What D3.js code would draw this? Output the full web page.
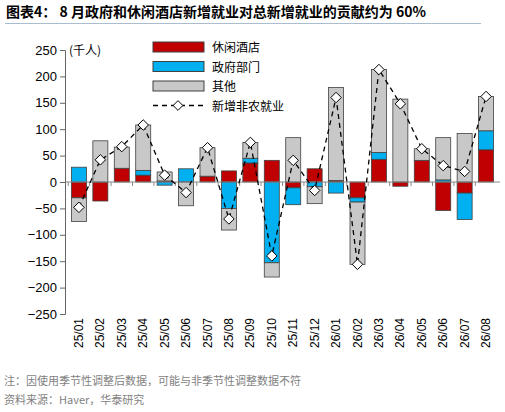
<!DOCTYPE html>
<html><head><meta charset="utf-8">
<script src="https://cdn.jsdelivr.net/npm/d3@7"></script>
<style>
body{margin:0;background:#fff;font-family:"Noto Sans CJK SC","Liberation Sans",sans-serif;}
</style></head>
<body><svg id="chart" width="505" height="412"></svg>
<script>
// months
var months = ["25/01","25/02","25/03","25/04","25/05","25/06","25/07","25/08","25/09","25/10",
  "25/11","25/12","26/01","26/02","26/03","26/04","26/05","26/06","26/07","26/08"];
var leisure = [-30,-36,26,13,2,0,11,21,36,41,-11,25,3,-30,43,-8,41,-54,-21,61];
var government = [28,0,0,9,-6,25,0,-50,9,-153,-32,-9,-21,-8,13,0,0,4,-50,36];
var other = [-45,78,40,86,17,-45,54,-41,30,-27,84,-32,176,-118,157,157,22,80,92,65];
var total = [-48,42,67,108,13,-20,65,-70,75,-140,41,-16,160,-156,213,148,63,31,20,162];
var yTicks = [-250,-200,-150,-100,-50,0,50,100,150,200,250];

var seriesNames = ["休闲酒店","政府部门","其他"];
var colors = ["#C00000","#00B0F0","#C8C8C8"];

var svg = d3.select("#chart");
var margin = {top: 50, right: 5, bottom: 98, left: 65};
var width = 505 - margin.left - margin.right;
var height = 412 - margin.top - margin.bottom;

// title
svg.append("text").attr("x", 6).attr("y", 17)
  .attr("font-size", 14).attr("font-weight", "bold").attr("fill", "#000")
  .text("图表4：  8 月政府和休闲酒店新增就业对总新增就业的贡献约为 60%");
svg.append("line").attr("x1", 5).attr("x2", 481).attr("y1", 23.5).attr("y2", 23.5)
  .style("stroke", "#A9BCD0").style("stroke-width", 1);

var chart = svg.append("g").attr("transform", "translate(" + margin.left + "," + margin.top + ")");

var x = d3.scaleBand().domain(months).range([0, width]).padding(0.3);
var y = d3.scaleLinear().domain([-250, 250]).range([height, 0]);

var rows = months.map(function (m, i) {
  return {month: m, "休闲酒店": leisure[i], "政府部门": government[i], "其他": other[i]};
});
var stacked = d3.stack().keys(seriesNames).offset(d3.stackOffsetDiverging)(rows);

stacked.forEach(function (s, si) {
  chart.selectAll(".bar" + si).data(s).enter().append("rect")
    .attr("x", function (d) { return x(d.data.month); })
    .attr("y", function (d) { return y(Math.max(d[0], d[1])); })
    .attr("width", x.bandwidth())
    .attr("height", function (d) { return Math.abs(y(d[0]) - y(d[1])); })
    .style("fill", colors[si]).style("stroke", "#404040").style("stroke-width", 0.8);
});

// zero line
chart.append("line").attr("x1", 0).attr("x2", width).attr("y1", y(0)).attr("y2", y(0))
  .style("stroke", "#888").style("stroke-width", 1);
chart.selectAll(".xt").data(months).enter().append("line")
  .attr("x1", function (d) { return x(d) - x.step() * x.padding() / 2; })
  .attr("x2", function (d) { return x(d) - x.step() * x.padding() / 2; })
  .attr("y1", y(0)).attr("y2", y(0) + 4).style("stroke", "#888");

// total line
var line = d3.line()
  .x(function (d, i) { return x(months[i]) + x.bandwidth() / 2; })
  .y(function (d) { return y(d); });
chart.append("path").datum(total).attr("d", line)
  .style("fill", "none").style("stroke", "#000").style("stroke-width", 1.3).style("stroke-dasharray", "5,4");
chart.selectAll(".dia").data(total).enter().append("path")
  .attr("d", d3.symbol().type(d3.symbolDiamond2).size(70))
  .attr("transform", function (d, i) { return "translate(" + (x(months[i]) + x.bandwidth() / 2) + "," + y(d) + ")"; })
  .style("fill", "#fff").style("stroke", "#000").style("stroke-width", 1);

// y axis
var yAxis = chart.append("g").call(d3.axisLeft(y).tickValues(yTicks).tickSize(5));
yAxis.selectAll("text").attr("font-size", 13).attr("fill", "#000").attr("font-family", "Liberation Sans");
yAxis.selectAll("line,path").style("stroke", "#666");

chart.append("text").attr("x", 4).attr("y", 5).attr("font-size", 12).attr("fill", "#000").text("(千人)");

// x labels
chart.selectAll(".xl").data(months).enter().append("text")
  .attr("transform", function (d) { return "translate(" + (x(d) + x.bandwidth() / 2 + 4) + "," + (height + 4) + ") rotate(-90)"; })
  .attr("text-anchor", "end").attr("font-size", 12).attr("fill", "#000")
  .attr("font-family", "Liberation Sans").text(function (d) { return d; });

// legend
var legendNames = seriesNames.concat(["新增非农就业"]);
var leg = svg.append("g").attr("transform", "translate(153,42)");
legendNames.forEach(function (n, i) {
  var gy = i * 19.5;
  if (i < 3) {
    leg.append("rect").attr("x", 0).attr("y", gy).attr("width", 51).attr("height", 10)
      .style("fill", colors[i]).style("stroke", "#404040");
  } else {
    leg.append("line").attr("x1", 0).attr("x2", 51).attr("y1", gy + 5).attr("y2", gy + 5)
      .style("stroke", "#000").style("stroke-dasharray", "5,4").style("stroke-width", 1.3);
    leg.append("path").attr("d", d3.symbol().type(d3.symbolDiamond2).size(60))
      .attr("transform", "translate(25," + (gy + 5) + ")").style("fill", "#fff").style("stroke", "#000");
  }
  leg.append("text").attr("x", 59).attr("y", gy + 10).attr("font-size", 12).attr("fill", "#000").text(n);
});

// footer
svg.append("text").attr("x", 4).attr("y", 385).attr("font-size", 11).attr("fill", "#7f7f7f")
  .text("注：因使用季节性调整后数据，可能与非季节性调整数据不符");
svg.append("text").attr("x", 4).attr("y", 404).attr("font-size", 11).attr("fill", "#7f7f7f")
  .text("资料来源：Haver，华泰研究");
</script></body></html>
